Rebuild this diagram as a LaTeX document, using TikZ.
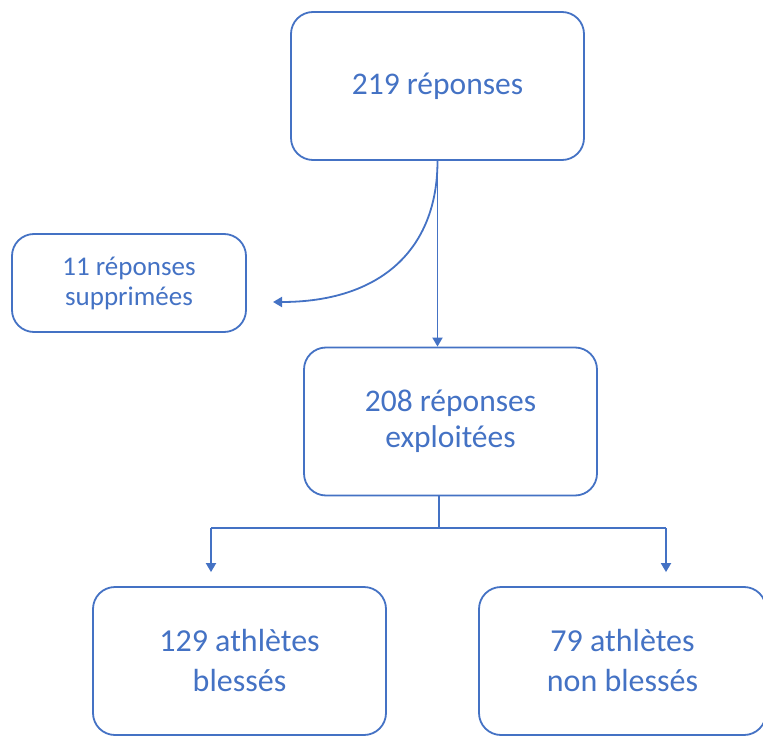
\documentclass[tikz,border=0pt]{standalone}
\usepackage{fontspec}
\setmainfont{Carlito}
\usetikzlibrary{arrows.meta}
\definecolor{bleu}{HTML}{4472C4}
\begin{document}
\begin{tikzpicture}[x=1pt,y=-1pt,
  boite/.style={draw=bleu,line width=1.8pt,rounded corners=22pt,text=bleu,
    align=center,inner sep=0pt,minimum width=293pt,minimum height=148pt,
    font=\fontsize{31.5}{36}\selectfont},
  fleche/.style={draw=bleu,line width=1.8pt,-{Triangle[width=10pt,length=9pt]}},
  trait/.style={draw=bleu,line width=1.8pt}]
\useasboundingbox (0,0) rectangle (763,738);
\node[boite] (rep) at (437.5,86) {219 réponses};
\node[boite,minimum width=234pt,minimum height=98pt,
  font=\fontsize{27}{30}\selectfont] (supp) at (129,283) {11 réponses\\supprimées};
\node[boite] (expl) at (450.5,421.5) {208 réponses\\exploitées};
\node[boite,font=\fontsize{32}{40}\selectfont] (bles) at (239.5,661) {129 athlètes\\blessés};
\node[boite,minimum width=287pt,font=\fontsize{32}{40}\selectfont] (nonbles) at (622.5,661) {79 athlètes\\non blessés};
\coordinate (coupe) at (273,302);
\coordinate (noeud) at (439,528);
\coordinate (gauche) at (211,528);
\coordinate (droite) at (666,528);
% fleches
\draw[fleche] (rep.south) -- (rep.south |- expl.north);
\draw[fleche] (rep.south) .. controls (437.5,250) and (380,302) .. (coupe);
\draw[trait] (expl.south -| noeud) -- (noeud);
\draw[trait] (gauche) -- (droite);
\draw[fleche] (gauche) -- ([yshift=14pt]bles.north -| gauche);
\draw[fleche] (droite) -- ([yshift=14pt]nonbles.north -| droite);
\end{tikzpicture}
\end{document}
